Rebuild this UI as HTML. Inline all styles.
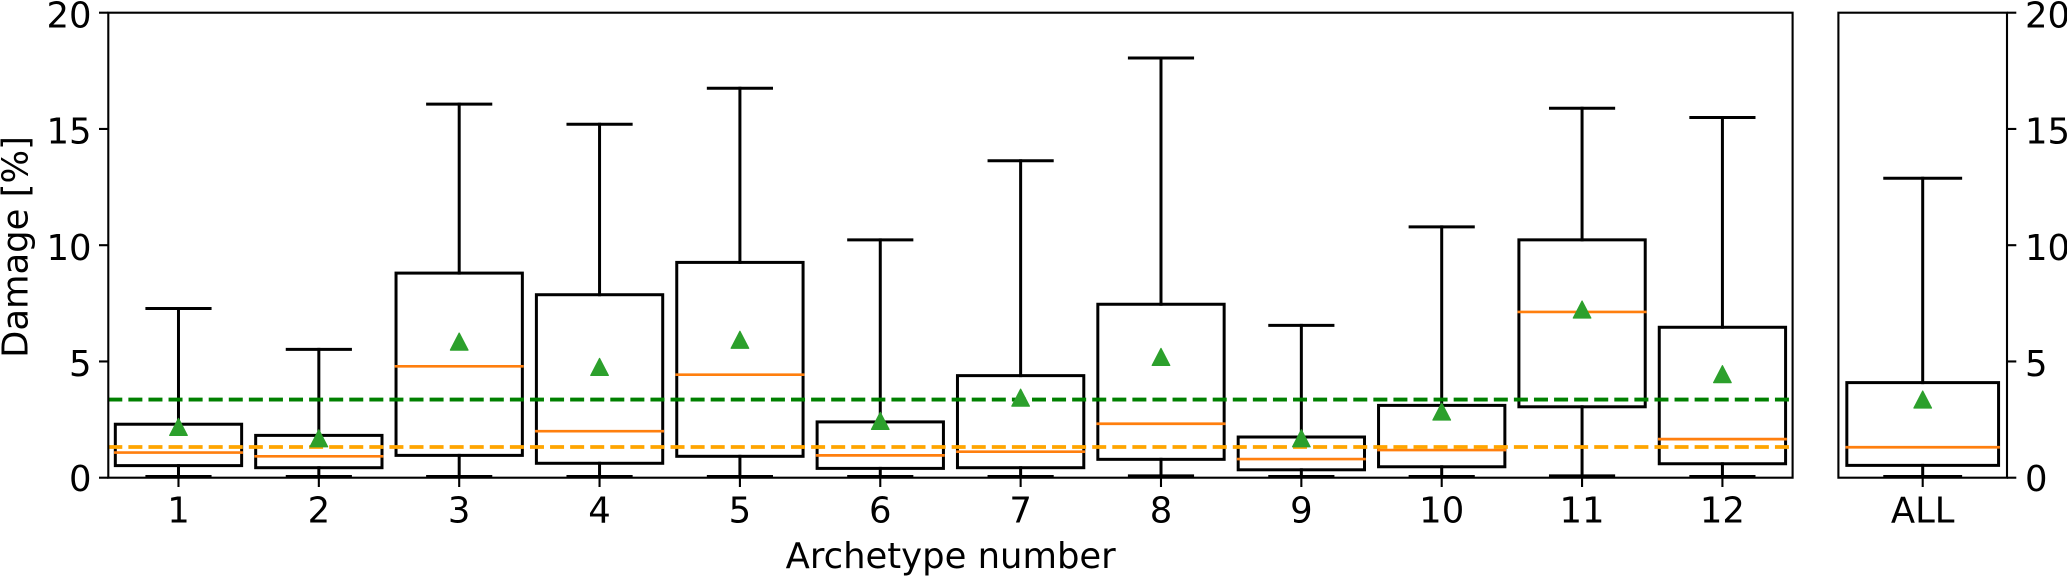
<!DOCTYPE html>
<html lang="en">
<head>
<meta charset="utf-8">
<title>Damage by archetype number</title>
<style>
html,body{margin:0;padding:0;background:#fff;width:2067px;height:576px;overflow:hidden}
svg{display:block}
text{font-family:"DejaVu Sans","Liberation Sans",sans-serif;font-size:35.4px;fill:#000}
</style>
</head>
<body>
<svg id="chart" xmlns="http://www.w3.org/2000/svg" width="2067" height="576" viewBox="0 0 2067 576">
  <g id="plots"></g>
  <g id="axes"></g>
</svg>
<script>
// Data
const categories = ['1','2','3','4','5','6','7','8','9','10','11','12'];
const whiskerLow = [0.05,0.05,0.05,0.05,0.05,0.05,0.05,0.08,0.05,0.05,0.08,0.05];
const q1Values = [0.52,0.43,0.96,0.62,0.92,0.40,0.43,0.79,0.34,0.47,3.05,0.60];
const medianValues = [1.08,0.92,4.79,2.00,4.43,0.96,1.12,2.32,0.80,1.19,7.13,1.66];
const q3Values = [2.30,1.82,8.80,7.87,9.26,2.40,4.39,7.46,1.75,3.11,10.23,6.47];
const whiskerHigh = [7.28,5.52,16.07,15.20,16.75,10.23,13.63,18.05,6.55,10.79,15.89,15.49];
const meanValues = [2.18,1.69,5.85,4.76,5.93,2.44,3.44,5.19,1.69,2.84,7.23,4.45];
const allCategory = ['ALL'];
const allWhiskerLow = [0.05];
const allQ1 = [0.53];
const allMedian = [1.31];
const allQ3 = [4.09];
const allWhiskerHigh = [12.88];
const allMean = [3.36];
const overallMean = 3.36;
const overallMedian = 1.32;
const yTicks = [0,5,10,15,20];
const yMin = 0;
const yMax = 20;

// Layout
const NS = 'http://www.w3.org/2000/svg';
const plotTop = 12.7, plotBottom = 477.7;
const mainLeft = 108.3, mainRight = 1792.6;
const allLeft = 1838.4, allRight = 2007;
const BLACK = '#000', ORANGE = '#ff7f0e', GREEN = '#2ca02c';
const DASH = '14 6.08';
const plots = document.getElementById('plots');
const axes = document.getElementById('axes');

function yScale(v){ return plotBottom - (v - yMin) / (yMax - yMin) * (plotBottom - plotTop); }
function xMain(i){ return mainLeft + (i + 0.5) / categories.length * (mainRight - mainLeft); }
function xAll(i){ return allLeft + (i + 0.5) / allCategory.length * (allRight - allLeft); }

function shape(tag, parent, attrs){
  const el = document.createElementNS(NS, tag);
  for (const k in attrs) el.setAttribute(k, attrs[k]);
  parent.appendChild(el);
  return el;
}
function solid(parent, x1, y1, x2, y2, color, w){
  return shape('line', parent, {x1:x1, y1:y1, x2:x2, y2:y2, stroke:color, 'stroke-width':w, 'stroke-linecap':'square'});
}

function drawBox(cat, cx, step, lo, a, m, b, hi){
  const g = shape('g', plots, {});
  
  
  const half = step * 0.45, cap = step * 0.225, lw = 3;

  const wu = solid(g, cx, yScale(b), cx, yScale(hi), BLACK, lw);
  
  
  const wl = solid(g, cx, yScale(a), cx, yScale(lo), BLACK, lw);
  
  
  const cu = solid(g, cx - cap, yScale(hi), cx + cap, yScale(hi), BLACK, lw);
  
  
  const cl = solid(g, cx - cap, yScale(lo), cx + cap, yScale(lo), BLACK, lw);
  
  
  const r = shape('rect', g, {x:cx - half, y:yScale(b), width:half * 2, height:yScale(a) - yScale(b), fill:'none', stroke:BLACK, 'stroke-width':lw, 'stroke-linejoin':'miter'});
  
  
  const md = solid(g, cx - half, yScale(m), cx + half, yScale(m), ORANGE, 2.67);
  
  
}

function drawMean(cat, cx, v){
  const y = yScale(v);
  const t = shape('polygon', plots, {points:(cx) + ',' + (y - 8.6) + ' ' + (cx - 8.8) + ',' + (y + 8.4) + ' ' + (cx + 8.8) + ',' + (y + 8.4), fill:GREEN, stroke:GREEN, 'stroke-width':1.2, 'stroke-linejoin':'round'});
  
  
}

function drawFrame(name, l, r){
  const f = shape('rect', axes, {x:l, y:plotTop, width:r - l, height:plotBottom - plotTop, fill:'none', stroke:BLACK, 'stroke-width':2.1});
  
  
}

function drawXTick(label, x){
  const t = solid(axes, x, plotBottom, x, plotBottom + 9.3, BLACK, 2.1);
  t.setAttribute('stroke-linecap', 'butt');
  
  
  const s = shape('text', axes, {x:x, y:522.7, 'text-anchor':'middle'});
  s.textContent = label;
  
  
}

// Boxes
const mainStep = (mainRight - mainLeft) / categories.length;
categories.forEach(function(cat, i){
  drawBox(cat, xMain(i), mainStep, whiskerLow[i], q1Values[i], medianValues[i], q3Values[i], whiskerHigh[i]);
});
allCategory.forEach(function(cat, i){
  drawBox(cat, xAll(i), allRight - allLeft, allWhiskerLow[i], allQ1[i], allMedian[i], allQ3[i], allWhiskerHigh[i]);
});

// Reference lines
const meanRef = shape('line', plots, {x1:mainLeft, y1:yScale(overallMean), x2:mainRight, y2:yScale(overallMean), stroke:'#008000', 'stroke-width':3.8, 'stroke-dasharray':DASH});


const medianRef = shape('line', plots, {x1:mainLeft, y1:yScale(overallMedian), x2:mainRight, y2:yScale(overallMedian), stroke:'#ffa500', 'stroke-width':3.8, 'stroke-dasharray':DASH});



// Mean markers
categories.forEach(function(cat, i){ drawMean(cat, xMain(i), meanValues[i]); });
allCategory.forEach(function(cat, i){ drawMean(cat, xAll(i), allMean[i]); });

// Frames and ticks
drawFrame('main-axes-frame', mainLeft, mainRight);
drawFrame('all-axes-frame', allLeft, allRight);
categories.forEach(function(cat, i){ drawXTick(cat, xMain(i)); });
allCategory.forEach(function(cat, i){ drawXTick(cat, xAll(i)); });

yTicks.forEach(function(v){
  const y = yScale(v);
  const labelY = y + (v === 0 ? 13.5 : 14.6);
  const tl = solid(axes, mainLeft - 9.3, y, mainLeft, y, BLACK, 2.1);
  tl.setAttribute('stroke-linecap', 'butt');
  
  
  const ll = shape('text', axes, {x:91.5, y:labelY, 'text-anchor':'end'});
  ll.textContent = v;
  
  
  const tr = solid(axes, allRight, y, allRight + 9.3, y, BLACK, 2.1);
  tr.setAttribute('stroke-linecap', 'butt');
  
  
  const lr = shape('text', axes, {x:2025, y:labelY, 'text-anchor':'start'});
  lr.textContent = v;
  
  
});

// Axis titles
const xTitle = shape('text', axes, {x:950.7, y:568, 'text-anchor':'middle'});
xTitle.textContent = 'Archetype number';


const yTitle = shape('text', axes, {x:0, y:0, 'text-anchor':'middle', transform:'translate(27.5 247) rotate(-90)'});
yTitle.textContent = 'Damage [%]';


</script>
</body>
</html>
